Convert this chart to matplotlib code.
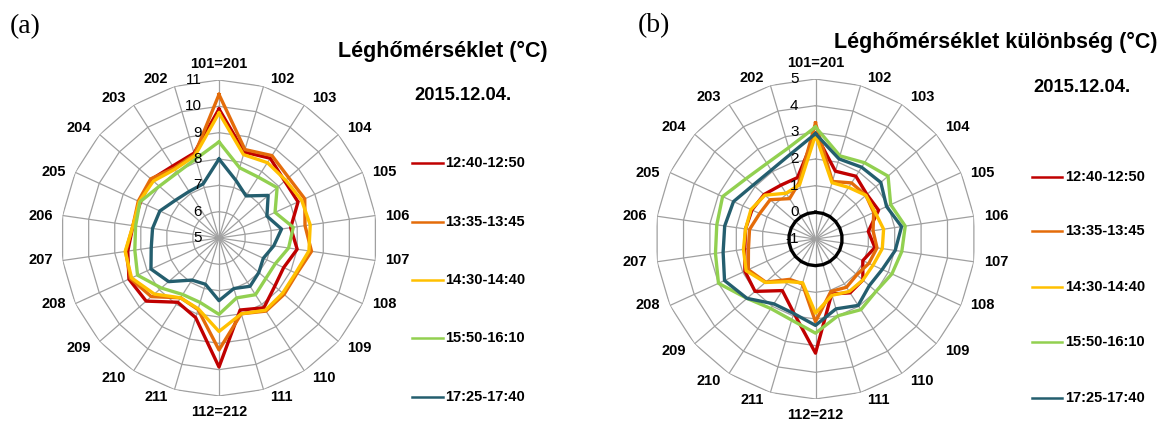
import numpy as np
import matplotlib
matplotlib.use("Agg")
import matplotlib.pyplot as plt
from matplotlib.lines import Line2D

plt.rcParams['font.family'] = ['Liberation Sans', 'DejaVu Sans']

# ---------------- data ----------------
categories = ['101=201', '102', '103', '104', '105', '106', '107', '108', '109',
              '110', '111', '112=212', '211', '210', '209', '208', '207', '206',
              '205', '204', '203', '202']
series_labels = ['12:40-12:50', '13:35-13:45', '14:30-14:40', '15:50-16:10', '17:25-17:40']
colors = ['#C00000', '#E46C0A', '#FFC000', '#92D050', '#245E6E']

# (a) air temperature (°C)
temp_1240 = [9.9, 8.4, 8.6, 8.3, 8.3, 7.75, 8.0, 7.7, 7.8, 8.15, 7.85, 9.9,
             8.15, 7.9, 8.66, 8.76, 8.5, 8.3, 8.28, 8.4, 8.25, 8.36]
temp_1335 = [10.45, 8.5, 8.72, 8.5, 8.58, 8.3, 8.55, 8.25, 8.27, 8.3, 8.0, 9.25,
             7.83, 7.7, 8.4, 8.7, 8.58, 8.3, 8.37, 8.43, 8.15, 8.3]
temp_1430 = [9.75, 8.3, 8.4, 8.35, 8.45, 8.5, 8.45, 8.2, 8.2, 8.26, 8.0, 8.55,
             7.8, 7.7, 8.25, 8.65, 8.6, 8.3, 8.33, 8.3, 8.1, 8.25]
temp_1550 = [8.65, 7.78, 7.75, 7.92, 7.34, 7.85, 7.67, 7.35, 7.35, 7.56, 7.37, 7.9,
             7.55, 7.55, 7.9, 8.4, 8.23, 8.2, 8.3, 8.0, 7.94, 8.13]
temp_1725 = [8.0, 7.28, 6.9, 7.47, 7.0, 7.4, 7.1, 6.85, 7.0, 7.18, 7.0, 7.38,
             6.83, 6.9, 7.53, 7.84, 7.6, 7.55, 7.47, 7.19, 7.1, 7.14]

# (b) air temperature difference (°C)
diff_1240 = [2.95, 1.65, 1.8, 1.55, 1.6, 1.0, 1.25, 0.95, 1.35, 1.4, 1.15, 3.28,
             1.89, 1.3, 2.0, 1.91, 1.68, 1.65, 1.62, 1.55, 1.4, 1.4]
diff_1335 = [3.35, 1.25, 1.5, 1.5, 1.4, 1.18, 1.33, 1.2, 1.05, 1.15, 1.05, 2.1,
             0.75, 0.8, 1.47, 1.77, 1.54, 1.5, 1.3, 1.25, 0.8, 1.2]
diff_1430 = [2.9, 1.2, 1.3, 1.5, 1.45, 1.58, 1.53, 1.37, 1.35, 1.34, 1.2, 1.78,
             0.71, 0.9, 1.49, 1.86, 1.73, 1.65, 1.66, 1.51, 1.04, 1.12]
diff_1550 = [3.2, 2.25, 2.4, 2.6, 2.1, 2.4, 2.27, 2.15, 2.0, 2.15, 2.0, 2.53,
             2.17, 2.1, 2.4, 3.0, 2.79, 2.74, 2.83, 2.45, 2.37, 2.57]
diff_1725 = [2.95, 2.13, 2.2, 2.24, 1.93, 2.26, 2.02, 1.75, 1.67, 1.96, 1.73, 2.24,
             1.91, 1.89, 2.4, 2.75, 2.5, 2.44, 2.38, 2.09, 2.07, 2.32]
diff_zero = [0] * 22

temp_ticks = [5, 6, 7, 8, 9, 10, 11]
diff_ticks = [-1, 0, 1, 2, 3, 4, 5]

title_a = 'Léghőmérséklet (°C)'
title_b = 'Léghőmérséklet különbség (°C)'
date_text = '2015.12.04.'

# ---------------- figure ----------------
W, H = 1171, 423
fig = plt.figure(figsize=(W / 100, H / 100), dpi=100)

GRID = '#A0A0A0'
n = len(categories)
theta = np.arange(n) * 2 * np.pi / n
theta_c = np.append(theta, theta[0])


def closed(v):
    return np.append(np.asarray(v, float), v[0])


def setup(ax, ticks):
    ax.set_theta_zero_location('N')
    ax.set_theta_direction(-1)
    ax.set_ylim(ticks[0], ticks[-1])
    ax.set_xticks(theta)
    ax.set_xticklabels([])
    ax.xaxis.grid(True, color=GRID, lw=0.9)
    ax.set_yticks([])
    ax.yaxis.grid(False)
    ax.spines['polar'].set_visible(False)
    ax.patch.set_alpha(0)
    ax.tick_params(axis='x', length=0)
    for v in ticks[1:]:
        ax.plot(theta_c, [v] * (n + 1), color=GRID, lw=0.9, zorder=1)
    for v in ticks:
        ax.annotate(str(v), xy=(0, v), xytext=(-17, 0), textcoords='offset pixels',
                    ha='right', va='center', fontsize=11, annotation_clip=False,
                    zorder=6)
    rmax = ticks[-1]
    for t, lab in zip(theta, categories):
        s, c = np.sin(t), np.cos(t)
        if abs(s) < 0.05:
            ha, dx = 'center', 0
            va, dy = ('bottom', 9) if c > 0 else ('top', -9)
        else:
            ha = 'left' if s > 0 else 'right'
            dx = np.sign(s) * (5 + 5 * abs(s))
            dy = 0
            if c > 0.5:
                va = 'bottom'
            elif c < -0.5:
                va = 'top'
            else:
                va = 'center'
        ax.annotate(lab, xy=(t, rmax), xytext=(dx, dy), textcoords='offset pixels',
                    ha=ha, va=va, fontsize=10.5, fontweight='bold',
                    annotation_clip=False)


# left polar (a)
cxa, cya, ra = 219, 238, 158
axA = fig.add_axes([(cxa - ra) / W, (H - cya - ra) / H, 2 * ra / W, 2 * ra / H],
                   projection='polar')
setup(axA, temp_ticks)
for vals, col in zip([temp_1240, temp_1335, temp_1430, temp_1550, temp_1725], colors):
    axA.plot(theta_c, closed(vals), color=col, lw=2.4, zorder=3)

# right polar (b)
cxb, cyb, rb = 815.5, 239, 160
axB = fig.add_axes([(cxb - rb) / W, (H - cyb - rb) / H, 2 * rb / W, 2 * rb / H],
                   projection='polar')
setup(axB, diff_ticks)
for vals, col in zip([diff_1240, diff_1335, diff_1430, diff_1550, diff_1725], colors):
    axB.plot(theta_c, closed(vals), color=col, lw=2.4, zorder=3)
axB.plot(theta_c, closed(diff_zero), color='black', lw=2.4, zorder=4)

# panel letters
fig.text(10 / W, 1 - 27 / H, '(a)', fontsize=20, family='Liberation Serif',
         ha='left', va='center')
fig.text(638 / W, 1 - 26 / H, '(b)', fontsize=20, family='Liberation Serif',
         ha='left', va='center')

# titles
fig.text(548 / W, 1 - 51 / H, title_a, fontsize=15.5, fontweight='bold',
         ha='right', va='center')
fig.text(462.5 / W, 1 - 96 / H, date_text, fontsize=13.2, fontweight='bold',
         ha='center', va='center')
fig.text(995.5 / W, 1 - 42 / H, title_b, fontsize=15.5, fontweight='bold',
         ha='center', va='center')
fig.text(1081.5 / W, 1 - 87 / H, date_text, fontsize=13.2, fontweight='bold',
         ha='center', va='center')


# legends
def legend(x0, x1, xt, ys):
    for y, col, lab in zip(ys, colors, series_labels):
        fig.add_artist(Line2D([x0 / W, x1 / W], [1 - y / H, 1 - y / H],
                              color=col, lw=1.8, transform=fig.transFigure))
        fig.text(xt / W, 1 - y / H, lab, fontsize=10.5, fontweight='bold',
                 ha='left', va='center')


legend(412, 443, 445, [163, 222, 280, 338, 397])
legend(1032, 1062, 1065, [177, 231, 287, 342, 398])

fig.savefig('out.png', dpi=100)
